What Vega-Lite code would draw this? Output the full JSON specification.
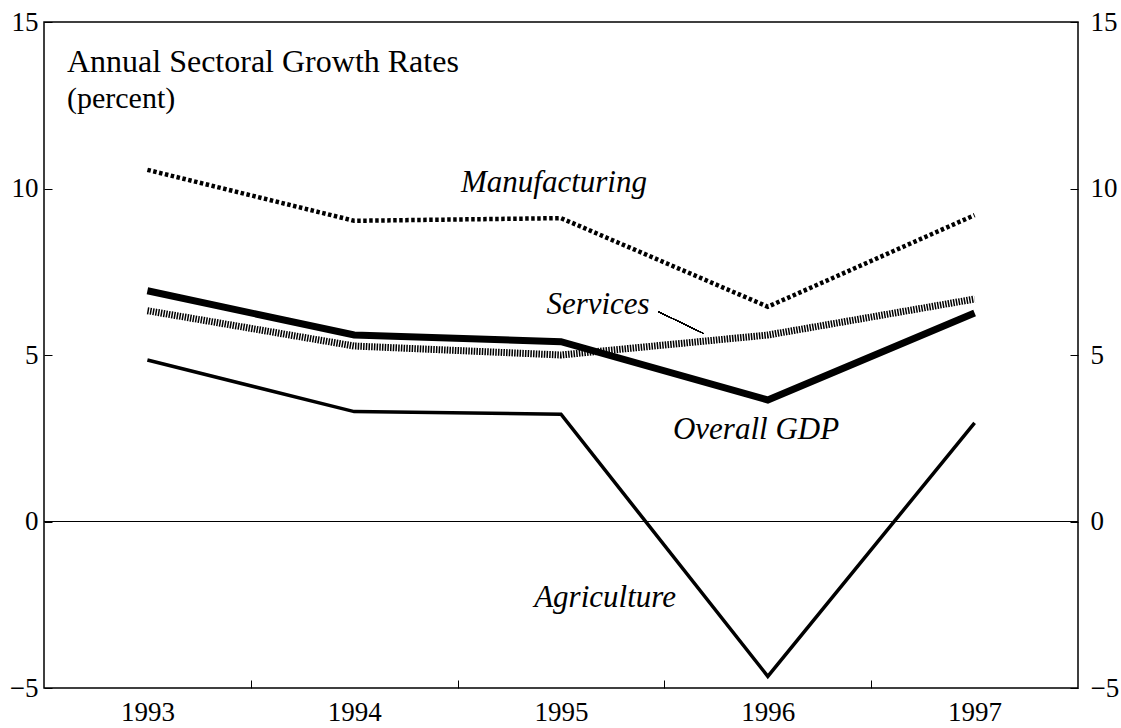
{
  "$schema": "https://vega.github.io/schema/vega-lite/v6.json",
  "width": 1034,
  "height": 666,
  "autosize": {"type": "none"},
  "padding": {"left": 44, "top": 22, "right": 43, "bottom": 40},
  "background": "white",
  "config": {
    "view": {"stroke": "black", "strokeWidth": 1.5},
    "font": "Liberation Serif",
    "axis": {"grid": false, "domain": false, "labelFont": "Liberation Serif", "labelFontSize": 27, "labelColor": "black", "tickColor": "black", "tickWidth": 1}
  },
  "data": {
    "values": [
      {"year": 1993, "sector": "Manufacturing", "value": 10.56},
      {"year": 1994, "sector": "Manufacturing", "value": 9.03},
      {"year": 1995, "sector": "Manufacturing", "value": 9.11},
      {"year": 1996, "sector": "Manufacturing", "value": 6.45},
      {"year": 1997, "sector": "Manufacturing", "value": 9.2},
      {"year": 1993, "sector": "Overall GDP", "value": 6.93},
      {"year": 1994, "sector": "Overall GDP", "value": 5.6},
      {"year": 1995, "sector": "Overall GDP", "value": 5.4},
      {"year": 1996, "sector": "Overall GDP", "value": 3.65},
      {"year": 1997, "sector": "Overall GDP", "value": 6.26},
      {"year": 1993, "sector": "Services", "value": 6.33},
      {"year": 1994, "sector": "Services", "value": 5.27},
      {"year": 1995, "sector": "Services", "value": 5.0},
      {"year": 1996, "sector": "Services", "value": 5.6},
      {"year": 1997, "sector": "Services", "value": 6.68},
      {"year": 1993, "sector": "Agriculture", "value": 4.85},
      {"year": 1994, "sector": "Agriculture", "value": 3.3},
      {"year": 1995, "sector": "Agriculture", "value": 3.22},
      {"year": 1996, "sector": "Agriculture", "value": -4.65},
      {"year": 1997, "sector": "Agriculture", "value": 2.96}
    ]
  },
  "resolve": {"axis": {"x": "independent", "y": "independent"}},
  "layer": [
    {
      "mark": {"type": "rule", "color": "black", "strokeWidth": 1},
      "encoding": {
        "y": {"datum": 0, "type": "quantitative", "axis": null, "scale": {"domain": [-5, 15], "nice": false, "zero": false}}
      }
    },
    {
      "transform": [{"filter": "datum.sector === 'Agriculture'"}],
      "mark": {"type": "line", "color": "black", "strokeWidth": 3.5, "strokeJoin": "miter"},
      "encoding": {
        "x": {"field": "year", "type": "quantitative", "scale": {"domain": [1992.5, 1997.5], "nice": false, "zero": false},
          "axis": {"orient": "bottom", "title": null, "values": [1993, 1993.5, 1994, 1994.5, 1995, 1995.5, 1996, 1996.5, 1997],
            "labelExpr": "datum.value % 1 === 0 ? format(datum.value, 'd') : ''", "tickSize": -8, "labelPadding": 19,
            "tickOpacity": {"condition": {"test": "datum.value % 1 === 0", "value": 0}, "value": 1}, "labelFlush": false, "labelOverlap": false}},
        "y": {"field": "value", "type": "quantitative", "scale": {"domain": [-5, 15], "nice": false, "zero": false},
          "axis": {"orient": "left", "title": null, "values": [-5, 0, 5, 10, 15], "tickSize": -8, "labelPadding": 14, "labelFlush": false, "labelOverlap": false}}
      }
    },
    {
      "transform": [{"filter": "datum.sector === 'Services'"}],
      "mark": {"type": "line", "color": "black", "strokeWidth": 7, "strokeDash": [1.5, 1.2]},
      "encoding": {
        "x": {"field": "year", "type": "quantitative", "axis": null, "scale": {"domain": [1992.5, 1997.5], "nice": false, "zero": false}},
        "y": {"field": "value", "type": "quantitative", "axis": null, "scale": {"domain": [-5, 15], "nice": false, "zero": false}}
      }
    },
    {
      "transform": [{"filter": "datum.sector === 'Overall GDP'"}],
      "mark": {"type": "line", "color": "black", "strokeWidth": 7, "strokeJoin": "miter"},
      "encoding": {
        "x": {"field": "year", "type": "quantitative", "axis": null, "scale": {"domain": [1992.5, 1997.5], "nice": false, "zero": false}},
        "y": {"field": "value", "type": "quantitative", "axis": null, "scale": {"domain": [-5, 15], "nice": false, "zero": false}}
      }
    },
    {
      "transform": [{"filter": "datum.sector === 'Manufacturing'"}],
      "mark": {"type": "line", "color": "black", "strokeWidth": 4.5, "strokeDash": [3.5, 2.5]},
      "encoding": {
        "x": {"field": "year", "type": "quantitative", "axis": null, "scale": {"domain": [1992.5, 1997.5], "nice": false, "zero": false}},
        "y": {"field": "value", "type": "quantitative", "scale": {"domain": [-5, 15], "nice": false, "zero": false},
          "axis": {"orient": "right", "title": null, "values": [-5, 0, 5, 10, 15], "tickSize": -8, "labelPadding": 20, "labelFlush": false, "labelOverlap": false}}
      }
    },
    {
      "mark": {"type": "rule", "color": "black", "strokeWidth": 1},
      "encoding": {
        "x": {"datum": 1995.471, "type": "quantitative", "axis": null, "scale": {"domain": [1992.5, 1997.5], "nice": false, "zero": false}},
        "x2": {"datum": 1995.688},
        "y": {"datum": 6.3, "type": "quantitative", "axis": null, "scale": {"domain": [-5, 15], "nice": false, "zero": false}},
        "y2": {"datum": 5.65}
      }
    },
    {
      "data": {"values": [{"label": "Manufacturing", "x": 1994.966, "y": 10.17}, {"label": "Services", "x": 1995.179, "y": 6.5}, {"label": "Overall GDP", "x": 1995.943, "y": 2.75}, {"label": "Agriculture", "x": 1995.213, "y": -2.3}]},
      "mark": {"type": "text", "font": "Liberation Serif", "fontStyle": "italic", "fontSize": 31, "align": "center", "baseline": "middle", "color": "black"},
      "encoding": {
        "x": {"field": "x", "type": "quantitative", "axis": null, "scale": {"domain": [1992.5, 1997.5], "nice": false, "zero": false}},
        "y": {"field": "y", "type": "quantitative", "axis": null, "scale": {"domain": [-5, 15], "nice": false, "zero": false}},
        "text": {"field": "label"}
      }
    },
    {
      "data": {"values": [{"label": "Annual Sectoral Growth Rates", "x": 1992.611, "y": 13.5}]},
      "mark": {"type": "text", "font": "Liberation Serif", "fontSize": 32, "align": "left", "baseline": "alphabetic", "color": "black"},
      "encoding": {
        "x": {"field": "x", "type": "quantitative", "axis": null, "scale": {"domain": [1992.5, 1997.5], "nice": false, "zero": false}},
        "y": {"field": "y", "type": "quantitative", "axis": null, "scale": {"domain": [-5, 15], "nice": false, "zero": false}},
        "text": {"field": "label"}
      }
    },
    {
      "data": {"values": [{"label": "(percent)", "x": 1992.611, "y": 12.42}]},
      "mark": {"type": "text", "font": "Liberation Serif", "fontSize": 30, "align": "left", "baseline": "alphabetic", "color": "black"},
      "encoding": {
        "x": {"field": "x", "type": "quantitative", "axis": null, "scale": {"domain": [1992.5, 1997.5], "nice": false, "zero": false}},
        "y": {"field": "y", "type": "quantitative", "axis": null, "scale": {"domain": [-5, 15], "nice": false, "zero": false}},
        "text": {"field": "label"}
      }
    }
  ]
}
